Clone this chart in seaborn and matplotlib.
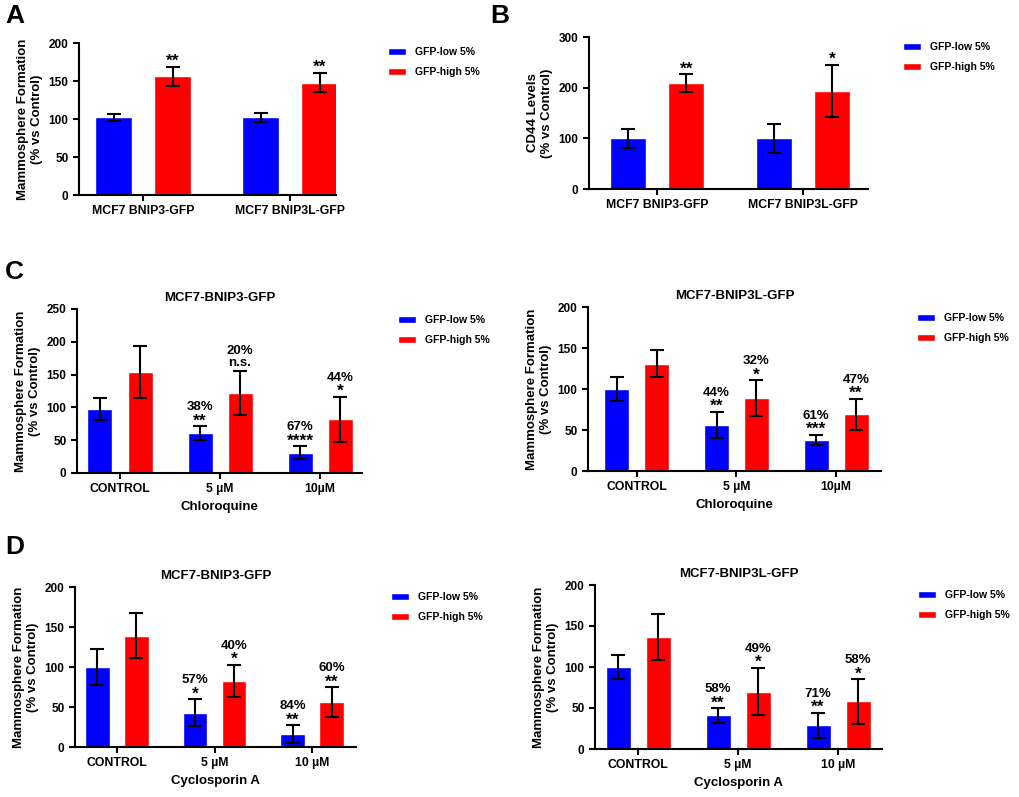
import pandas as pd
import matplotlib
matplotlib.use("Agg")
import matplotlib.pyplot as plt
import seaborn as sns

sns.set_style("ticks")
plt.rcParams["font.family"] = ["Liberation Sans", "DejaVu Sans"]
plt.rcParams["font.weight"] = "bold"
plt.rcParams["axes.labelweight"] = "bold"
plt.rcParams["axes.titleweight"] = "bold"
for key in ["text.color", "axes.labelcolor", "xtick.color", "ytick.color", "axes.edgecolor"]:
    plt.rcParams[key] = "black"

LOW = "GFP-low 5%"
HIGH = "GFP-high 5%"
PALETTE = {LOW: "#0000FF", HIGH: "#FF0000"}

# ---------------------------------------------------------------------------
# data
# ---------------------------------------------------------------------------
lines_ab = ["MCF7 BNIP3-GFP", "MCF7 BNIP3L-GFP"]

a_low = [102, 102]
a_low_err = [4, 6]
a_high = [156, 148]
a_high_err = [12.5, 13]
a_low_pct = ["", ""]
a_low_sig = ["", ""]
a_high_pct = ["", ""]
a_high_sig = ["**", "**"]

b_low = [100, 100]
b_low_err = [19, 28]
b_high = [209, 194]
b_high_err = [18, 51]
b_low_pct = ["", ""]
b_low_sig = ["", ""]
b_high_pct = ["", ""]
b_high_sig = ["**", "*"]

doses_c = ["CONTROL", "5 µM", "10µM"]

c1_low = [98, 61, 31]
c1_low_err = [17, 10, 10]
c1_high = [154, 122, 82]
c1_high_err = [40, 33, 34]
c1_low_pct = ["", "38%", "67%"]
c1_low_sig = ["", "**", "****"]
c1_high_pct = ["", "20%", "44%"]
c1_high_sig = ["", "n.s.", "*"]

c2_low = [100, 56, 38]
c2_low_err = [15, 16, 6]
c2_high = [131, 89, 69]
c2_high_err = [16, 22, 19]
c2_low_pct = ["", "44%", "61%"]
c2_low_sig = ["", "**", "***"]
c2_high_pct = ["", "32%", "47%"]
c2_high_sig = ["", "*", "**"]

doses_d = ["CONTROL", "5 µM", "10 µM"]

d1_low = [100, 43, 16]
d1_low_err = [22, 17, 11]
d1_high = [139, 83, 56]
d1_high_err = [28, 20, 19]
d1_low_pct = ["", "57%", "84%"]
d1_low_sig = ["", "*", "**"]
d1_high_pct = ["", "40%", "60%"]
d1_high_sig = ["", "*", "**"]

d2_low = [100, 41, 29]
d2_low_err = [15, 9, 15]
d2_high = [137, 70, 58]
d2_high_err = [28, 29, 27]
d2_low_pct = ["", "58%", "71%"]
d2_low_sig = ["", "**", "**"]
d2_high_pct = ["", "49%", "58%"]
d2_high_sig = ["", "*", "*"]

YLAB_MAMMO = "Mammosphere Formation\n(% vs Control)"
YLAB_CD44 = "CD44 Levels\n(% vs Control)"

fig = plt.figure(figsize=(10.2, 7.97), dpi=100)


def px_rect(left, right, top, bottom):
    W, H = 1020, 797
    return [left / W, 1 - bottom / H, (right - left) / W, (bottom - top) / H]


def panel(rect, cats, low, low_err, high, high_err, pcts, sigs,
          ymax, ystep, xlim, ylabel, legend_xy, title=None, xlabel=None):
    ax = fig.add_axes(px_rect(*rect))
    df = pd.DataFrame({
        "group": cats * 2,
        "value": low + high,
        "series": [LOW] * len(cats) + [HIGH] * len(cats),
    })
    sns.barplot(data=df, x="group", y="value", hue="series", palette=PALETTE,
                gap=0.375, errorbar=None, saturation=1, ax=ax)

    for cont, errs, pct, sig in zip(ax.containers, [low_err, high_err], pcts, sigs):
        xs = [p.get_x() + p.get_width() / 2 for p in cont]
        ys = [p.get_height() for p in cont]
        ax.errorbar(xs, ys, yerr=errs, fmt="none", ecolor="black",
                    elinewidth=1.5, capsize=5, capthick=1.5, zorder=5)
        for x, y, e, p_lab, s_lab in zip(xs, ys, errs, pct, sig):
            if s_lab == "n.s.":
                ax.annotate(s_lab, (x, y + e), xytext=(0, 3.5), textcoords="offset points",
                            ha="center", va="baseline", fontsize=9.5)
                p_off = 12.5
            elif s_lab:
                ax.annotate(s_lab, (x, y + e), xytext=(0, 0.5), textcoords="offset points",
                            ha="center", va="baseline", fontsize=12.5)
                p_off = 11.5
            if p_lab:
                ax.annotate(p_lab, (x, y + e), xytext=(0, p_off), textcoords="offset points",
                            ha="center", va="baseline", fontsize=9.5)

    ax.set_xlim(*xlim)
    ax.set_ylim(0, ymax)
    ax.set_yticks(range(0, ymax + 1, ystep))
    ax.set_ylabel(ylabel, fontsize=9.5)
    ax.set_xlabel(xlabel if xlabel else "", fontsize=9.5)
    if title:
        ax.set_title(title, fontsize=9.5, pad=6)
    for s in ["left", "bottom"]:
        ax.spines[s].set_linewidth(1.5)
    sns.despine(ax=ax)
    ax.tick_params(width=1.5, length=4, labelsize=8.5, colors="black")
    ax.tick_params(axis="x", labelsize=8.8)

    sns.move_legend(ax, "upper left", bbox_to_anchor=(legend_xy[0] / 1020, 1 - legend_xy[1] / 797),
                    bbox_transform=fig.transFigure, title=None, frameon=False,
                    fontsize=7.5, handlelength=1.7, handleheight=0.7,
                    handletextpad=0.9, labelspacing=1.0, borderpad=0, borderaxespad=0)
    return ax


panel((79, 336, 43, 195), lines_ab, a_low, a_low_err, a_high, a_high_err,
      (a_low_pct, a_high_pct), (a_low_sig, a_high_sig),
      200, 50, (-0.435, 1.31), YLAB_MAMMO, (388, 47))
panel((589, 868, 37, 189), lines_ab, b_low, b_low_err, b_high, b_high_err,
      (b_low_pct, b_high_pct), (b_low_sig, b_high_sig),
      300, 100, (-0.466, 1.445), YLAB_CD44, (903, 42))
panel((77, 362, 309, 473), doses_c, c1_low, c1_low_err, c1_high, c1_high_err,
      (c1_low_pct, c1_high_pct), (c1_low_sig, c1_high_sig),
      250, 50, (-0.43, 2.42), YLAB_MAMMO, (398, 315),
      title="MCF7-BNIP3-GFP", xlabel="Chloroquine")
panel((588, 881, 307, 471), doses_c, c2_low, c2_low_err, c2_high, c2_high_err,
      (c2_low_pct, c2_high_pct), (c2_low_sig, c2_high_sig),
      200, 50, (-0.49, 2.45), YLAB_MAMMO, (917, 313),
      title="MCF7-BNIP3L-GFP", xlabel="Chloroquine")
panel((75, 356, 587, 747), doses_d, d1_low, d1_low_err, d1_high, d1_high_err,
      (d1_low_pct, d1_high_pct), (d1_low_sig, d1_high_sig),
      200, 50, (-0.43, 2.45), YLAB_MAMMO, (391, 592),
      title="MCF7-BNIP3-GFP", xlabel="Cyclosporin A")
panel((595, 882, 585, 749), doses_d, d2_low, d2_low_err, d2_high, d2_high_err,
      (d2_low_pct, d2_high_pct), (d2_low_sig, d2_high_sig),
      200, 50, (-0.43, 2.44), YLAB_MAMMO, (918, 590),
      title="MCF7-BNIP3L-GFP", xlabel="Cyclosporin A")

# panel letters
for letter, x, y in [("A", 5, 4), ("B", 490, 4), ("C", 5, 260), ("D", 5, 535)]:
    fig.text(x / 1020, 1 - y / 797, letter, fontsize=19, fontweight="bold",
             ha="left", va="top")

fig.savefig("out.png", dpi=100)
